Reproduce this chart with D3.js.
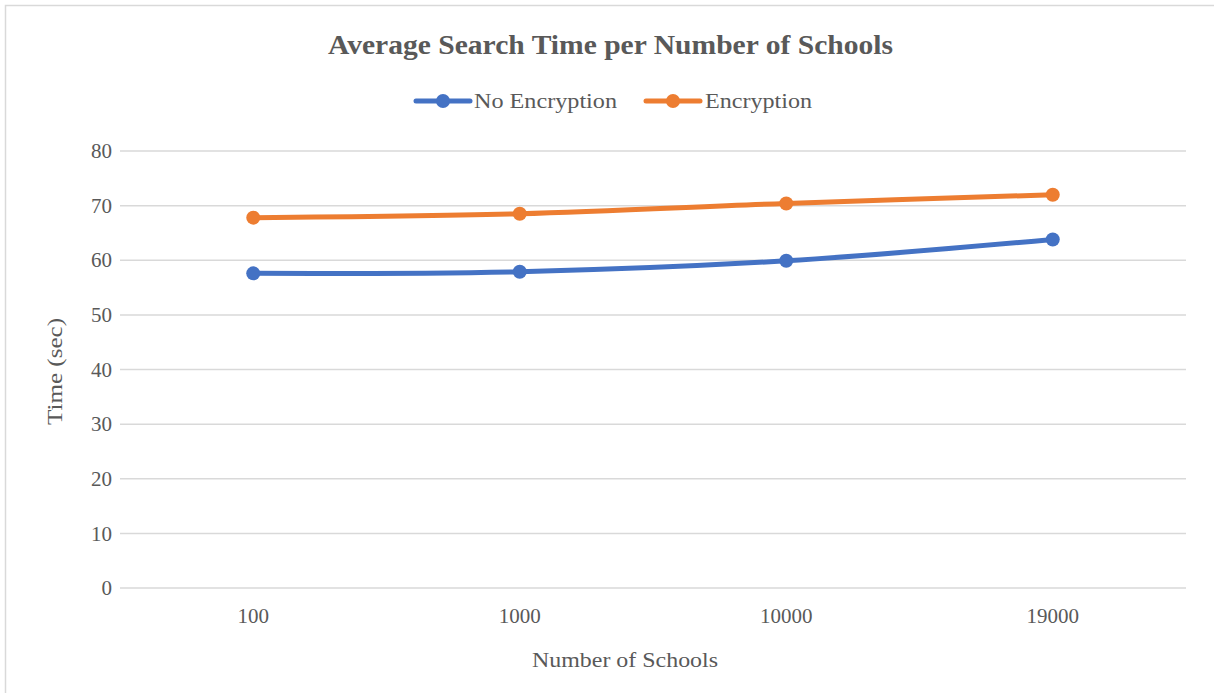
<!DOCTYPE html>
<html>
<head>
<meta charset="utf-8">
<script src="https://cdn.jsdelivr.net/npm/d3@7"></script>
<style>
  html, body { margin: 0; padding: 0; background: #fff; }
  svg { display: block; }
  text { font-family: "Liberation Serif", "Times New Roman", serif; fill: #595959; }
</style>
</head>
<body>
<svg id="chart" width="1214" height="693"></svg>
<script>
// Average search time (seconds) by number of schools
const categories = ["100", "1000", "10000", "19000"];
const noEncryption = [57.6, 57.9, 59.9, 63.8];
const encryption = [67.8, 68.5, 70.4, 72.0];
const yTicks = [0, 10, 20, 30, 40, 50, 60, 70, 80];
const seriesNames = ["No Encryption", "Encryption"];
const seriesColors = ["#4472c4", "#ed7d31"];

const svg = d3.select("#chart");
const W = 1214, H = 693;
const margin = { left: 120, right: 28, top: 151, bottom: 105 };

// chart frame
svg.append("rect")
  .attr("x", 5.5).attr("y", 5.5)
  .attr("width", W + 20).attr("height", H + 20)
  .attr("fill", "#fff").attr("stroke", "#d9d9d9").attr("stroke-width", 1.5);

const x = d3.scaleBand().domain(categories)
  .range([margin.left, W - margin.right]);
const y = d3.scaleLinear().domain([0, 80])
  .range([H - margin.bottom, margin.top]);

// horizontal gridlines
svg.append("g").selectAll("line").data(yTicks).join("line")
  .attr("x1", margin.left).attr("x2", W - margin.right)
  .attr("y1", d => y(d)).attr("y2", d => y(d))
  .attr("stroke", "#d9d9d9").attr("stroke-width", 1.5);

// y axis labels
const yAxis = d3.axisLeft(y).tickValues(yTicks).tickSize(0).tickPadding(0);
const gy = svg.append("g").attr("transform", `translate(${margin.left - 8},0)`).call(yAxis);
gy.select(".domain").remove();
gy.selectAll("text").attr("font-size", 21)
  .attr("font-family", "Liberation Serif, serif").attr("fill", "#595959");

// x axis labels
const xAxis = d3.axisBottom(x).tickSize(0).tickPadding(0);
const gx = svg.append("g").attr("transform", `translate(0,${H - margin.bottom + 20})`).call(xAxis);
gx.select(".domain").remove();
gx.selectAll("text").attr("font-size", 21)
  .attr("font-family", "Liberation Serif, serif").attr("fill", "#595959");

// titles
svg.append("text").attr("x", 610.5).attr("y", 54)
  .attr("text-anchor", "middle").attr("font-size", 27).attr("font-weight", "bold")
  .attr("textLength", 565).attr("lengthAdjust", "spacingAndGlyphs")
  .text("Average Search Time per Number of Schools");

svg.append("text").attr("x", 625).attr("y", 667)
  .attr("text-anchor", "middle").attr("font-size", 22)
  .attr("textLength", 186).attr("lengthAdjust", "spacingAndGlyphs")
  .text("Number of Schools");

svg.append("text")
  .attr("transform", `translate(62,${(y(0) + y(80)) / 2 + 2}) rotate(-90)`)
  .attr("text-anchor", "middle").attr("font-size", 22)
  .attr("textLength", 107).attr("lengthAdjust", "spacingAndGlyphs")
  .text("Time (sec)");

// series lines and markers
const series = [noEncryption, encryption];
const line = d3.line()
  .x((d, i) => x(categories[i]) + x.bandwidth() / 2)
  .y(d => y(d))
  .curve(d3.curveCatmullRom.alpha(0));

series.forEach((vals, s) => {
  svg.append("path").datum(vals)
    .attr("d", line).attr("fill", "none")
    .attr("stroke", seriesColors[s]).attr("stroke-width", 5)
    .attr("stroke-linecap", "round").attr("stroke-linejoin", "round");
  svg.append("g").selectAll("circle").data(vals).join("circle")
    .attr("cx", (d, i) => x(categories[i]) + x.bandwidth() / 2)
    .attr("cy", d => y(d))
    .attr("r", 7)
    .attr("fill", seriesColors[s]);
});

// legend
const legendItems = [
  { name: seriesNames[0], color: seriesColors[0], x0: 416, tx: 474, len: 143 },
  { name: seriesNames[1], color: seriesColors[1], x0: 646, tx: 705, len: 107 }
];
const lg = svg.append("g");
legendItems.forEach(it => {
  lg.append("line").attr("x1", it.x0).attr("x2", it.x0 + 54)
    .attr("y1", 101).attr("y2", 101)
    .attr("stroke", it.color).attr("stroke-width", 5).attr("stroke-linecap", "round");
  lg.append("circle").attr("cx", it.x0 + 27).attr("cy", 101).attr("r", 7).attr("fill", it.color);
  lg.append("text").attr("x", it.tx).attr("y", 108).attr("font-size", 22)
    .attr("textLength", it.len).attr("lengthAdjust", "spacingAndGlyphs")
    .text(it.name);
});
</script>
</body>
</html>
